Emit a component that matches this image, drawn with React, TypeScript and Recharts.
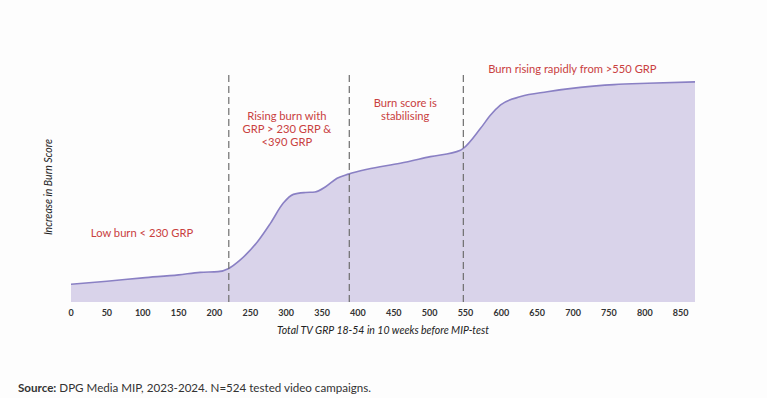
import React from 'react';
import { AreaChart, Area, XAxis, YAxis, ReferenceLine, ReferenceDot } from 'recharts';

const grp = [0, 50, 100, 150, 180, 205, 220, 236, 260, 278, 296, 310, 327, 340, 355, 371, 387, 413, 459, 501, 543, 547, 571, 585, 599, 627, 664, 710, 757, 804, 870];
const burn = [7.7, 9.0, 10.5, 11.8, 12.9, 13.2, 14.6, 18.3, 26.2, 34.2, 43, 46.8, 47.6, 47.8, 50.1, 53.8, 55.6, 57.7, 60.3, 63.2, 66, 66.8, 75.5, 81.3, 85.7, 89.3, 91.4, 93.3, 94.5, 95.1, 95.7];
const xTicks = [0, 50, 100, 150, 200, 250, 300, 350, 400, 450, 500, 550, 600, 650, 700, 750, 800, 850];
const thresholds = [220, 388, 547];
const notes = [
  { x: 99, y: 30, lines: ['Low burn < 230 GRP'] },
  { x: 301, y: 81, lines: ['Rising burn with', 'GRP > 230 GRP &', '<390 GRP'] },
  { x: 466, y: 86.5, lines: ['Burn score is', 'stabilising'] },
  { x: 699, y: 101.3, lines: ['Burn rising rapidly from >550 GRP'] },
];

const data = grp.map((g, i) => ({ grp: g, burn: burn[i] }));

const FONT = 'Lato, "Open Sans", sans-serif';
const RED = '#c9413f';

const NoteShape = (lines: string[]) => (props: any) => {
  const { cx, cy } = props;
  return (
    <text x={cx} y={cy} textAnchor="middle" fontFamily={FONT} fontSize={11.2} fill={RED}>
      {lines.map((l, i) => (
        <tspan key={i} x={cx} y={cy + i * 13.2 + 4}>{l}</tspan>
      ))}
    </text>
  );
};

export default function App() {
  return (
    <div style={{ position: 'absolute', left: 0, top: 0, width: 767, height: 398, background: '#fdfdfd' }}>
      <AreaChart width={767} height={398} data={data} margin={{ top: 72, right: 72, bottom: 66, left: 25 }}>
        <XAxis
          dataKey="grp"
          type="number"
          domain={[0, 870]}
          ticks={xTicks}
          axisLine={false}
          tickLine={false}
          height={30}
          tick={{ fontSize: 9, fontWeight: 'bold', fill: '#333', fontFamily: FONT }}
          label={{ value: 'Total TV GRP 18-54 in 10 weeks before MIP-test', position: 'bottom', offset: -5, fontSize: 10.5, fontStyle: 'italic', fill: '#222', fontFamily: FONT }}
        />
        <YAxis
          type="number"
          domain={[0, 100]}
          tick={false}
          axisLine={false}
          tickLine={false}
          width={46}
          label={{ value: 'Increase in Burn Score', angle: -90, position: 'center', fontSize: 10.5, fontStyle: 'italic', fill: '#222', fontFamily: FONT }}
        />
        <Area
          type="monotone"
          dataKey="burn"
          stroke="#8a80c4"
          strokeWidth={1.6}
          fill="#d9d3ea"
          fillOpacity={1}
          isAnimationActive={false}
        />
        {thresholds.map((t) => (
          <ReferenceLine key={t} x={t} stroke="#6e6e6e" strokeWidth={1.2} strokeDasharray="7 4" />
        ))}
        {notes.map((n, i) => (
          <ReferenceDot key={i} x={n.x} y={n.y} r={0} ifOverflow="visible" shape={NoteShape(n.lines)} />
        ))}
      </AreaChart>
      <div style={{ position: 'absolute', left: 18, top: 381, fontFamily: FONT, fontSize: 11.6, color: '#333', whiteSpace: 'nowrap' }}>
        <b>Source:</b> DPG Media MIP, 2023-2024. N=524 tested video campaigns.
      </div>
    </div>
  );
}
